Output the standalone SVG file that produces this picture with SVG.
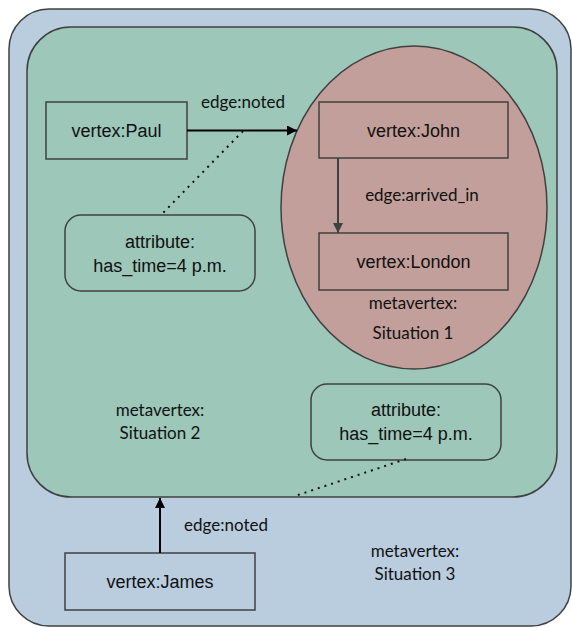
<svg xmlns="http://www.w3.org/2000/svg" width="572" height="628" viewBox="0 0 572 628">
<defs>
<style>
.box{stroke:#404040;stroke-width:1.5}
.v{font-family:"Liberation Sans",Arial,sans-serif;font-size:18px;fill:#111;text-anchor:middle}
.c{font-family:Lato,"Open Sans",sans-serif;font-size:17px;fill:#111;text-anchor:middle}
.dot{stroke:#111;stroke-width:2;stroke-dasharray:2 5;fill:none}
</style>
<marker id="ab" viewBox="0 0 10 10" refX="10" refY="5" markerWidth="10" markerHeight="10" markerUnits="userSpaceOnUse" orient="auto"><path d="M0,0 L10,5 L0,10 z" fill="#000"/></marker>
<marker id="ag" viewBox="0 0 10 10" refX="10" refY="5" markerWidth="10" markerHeight="10" markerUnits="userSpaceOnUse" orient="auto"><path d="M0,0 L10,5 L0,10 z" fill="#404040"/></marker>
</defs>
<g id="situation3">
<rect class="box" x="9" y="9" width="562" height="617" rx="40" fill="#b9cddf"/>
<text class="c" x="415" y="557">metavertex:</text>
<text class="c" x="415" y="580">Situation 3</text>
</g>
<g id="situation2">
<rect class="box" x="27" y="27" width="530" height="470" rx="44" fill="#9cc7b9"/>
<text class="c" x="160" y="416">metavertex:</text>
<text class="c" x="160" y="439">Situation 2</text>
</g>
<g id="situation1">
<ellipse class="box" cx="414" cy="207.5" rx="133" ry="161.5" fill="#c29f9a"/>
<text class="c" x="413" y="309">metavertex:</text>
<text class="c" x="413" y="339">Situation 1</text>
</g>
<g id="paul">
<rect class="box" x="46" y="102" width="141" height="57" fill="#9cc7b9"/>
<text class="v" x="116.5" y="137">vertex:Paul</text>
</g>
<g id="john">
<rect class="box" x="319" y="102" width="189" height="56" fill="#c29f9a"/>
<text class="v" x="413.5" y="137">vertex:John</text>
</g>
<g id="london">
<rect class="box" x="319" y="233" width="189" height="57" fill="#c29f9a"/>
<text class="v" x="413.5" y="268">vertex:London</text>
</g>
<g id="attr1">
<rect class="box" x="65" y="215" width="190" height="76" rx="16" fill="#9cc7b9"/>
<text class="v" x="160" y="248">attribute:</text>
<text class="v" x="160" y="272">has_time=4 p.m.</text>
</g>
<g id="attr2">
<rect class="box" x="311" y="384" width="190" height="76" rx="16" fill="#9cc7b9"/>
<text class="v" x="406" y="416">attribute:</text>
<text class="v" x="406" y="440">has_time=4 p.m.</text>
</g>
<g id="james">
<rect class="box" x="65" y="553" width="190" height="57" fill="#b9cddf"/>
<text class="v" x="160" y="588">vertex:James</text>
</g>
<g id="connectors">
<line x1="187" y1="130.5" x2="297" y2="130.5" stroke="#000" stroke-width="2" marker-end="url(#ab)"/>
<text class="c" x="243" y="108">edge:noted</text>
<line x1="338" y1="158" x2="338" y2="233" stroke="#404040" stroke-width="2" marker-end="url(#ag)"/>
<text class="c" x="422" y="201">edge:arrived_in</text>
<line x1="160" y1="553" x2="160" y2="498" stroke="#000" stroke-width="2" marker-end="url(#ab)"/>
<text class="c" x="226" y="531">edge:noted</text>
<line class="dot" x1="243" y1="131" x2="162" y2="214"/>
<line class="dot" x1="406" y1="459" x2="295" y2="496"/>
</g>
</svg>
